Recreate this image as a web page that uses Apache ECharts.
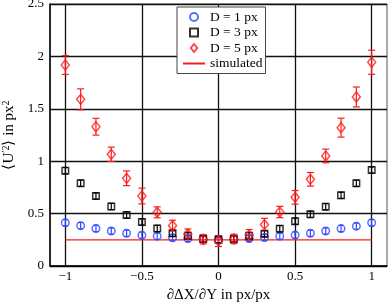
<!DOCTYPE html>
<html>
<head>
<meta charset="utf-8">
<script src="https://cdn.jsdelivr.net/npm/echarts@6/dist/echarts.min.js"></script>
<style>
  html, body { margin: 0; padding: 0; background: #fff; }
  #chart { width: 388px; height: 305px; }
</style>
</head>
<body>
<div id="chart"></div>
<script>
// slope values (x axis)
const xVals = [-1, -0.9, -0.8, -0.7, -0.6, -0.5, -0.4, -0.3, -0.2, -0.1, 0, 0.1, 0.2, 0.3, 0.4, 0.5, 0.6, 0.7, 0.8, 0.9, 1];
const xTicks = [-1, -0.5, 0, 0.5, 1];

// D = 1 px
const d1 = [0.413, 0.385, 0.358, 0.334, 0.312, 0.293, 0.285, 0.27, 0.262, 0.255, 0.25, 0.255, 0.262, 0.272, 0.285, 0.295, 0.312, 0.334, 0.357, 0.38, 0.413];
const d1Err = [0.03, 0.03, 0.03, 0.03, 0.03, 0.03, 0.03, 0.03, 0.03, 0.03, 0.03, 0.03, 0.03, 0.03, 0.03, 0.03, 0.03, 0.03, 0.03, 0.03, 0.03];
// D = 3 px
const d3 = [0.91, 0.79, 0.668, 0.568, 0.487, 0.42, 0.358, 0.312, 0.289, 0.258, 0.25, 0.258, 0.289, 0.308, 0.356, 0.428, 0.493, 0.566, 0.674, 0.789, 0.916];
const d3Err = [0.03, 0.03, 0.03, 0.03, 0.03, 0.03, 0.03, 0.03, 0.03, 0.03, 0.03, 0.03, 0.03, 0.03, 0.03, 0.03, 0.03, 0.03, 0.03, 0.03, 0.03];
// D = 5 px
const d5 = [1.918, 1.59, 1.329, 1.066, 0.837, 0.668, 0.512, 0.385, 0.305, 0.255, 0.238, 0.258, 0.296, 0.395, 0.515, 0.655, 0.827, 1.05, 1.32, 1.613, 1.944];
const d5Err = [0.09, 0.1, 0.08, 0.068, 0.07, 0.075, 0.052, 0.052, 0.048, 0.045, 0.052, 0.045, 0.052, 0.06, 0.054, 0.065, 0.065, 0.065, 0.09, 0.095, 0.115];
// simulated
const simX = [-1, 1];
const simY = [0.25, 0.25];

const FONT = 'Liberation Serif';
const BLUE = '#2f4cff';
const RED = '#ff1a1a';

const chart = echarts.init(document.getElementById('chart'), null, { renderer: 'canvas' });

function pts(ys) {
  return xVals.map((x, i) => [x, ys[i]]);
}

function errorBars(name, ys, errs, color, cap) {
  return {
    name: name,
    type: 'custom',
    silent: true,
    z: 2,
    data: xVals.map((x, i) => [x, ys[i] - errs[i], ys[i] + errs[i]]),
    encode: { x: 0, y: [1, 2] },
    renderItem: function (params, api) {
      const x = api.value(0);
      const lo = api.coord([x, api.value(1)]);
      const hi = api.coord([x, api.value(2)]);
      const style = { stroke: color, lineWidth: 1.2 };
      return {
        type: 'group',
        children: [
          { type: 'line', shape: { x1: lo[0], y1: lo[1], x2: hi[0], y2: hi[1] }, style: style },
          { type: 'line', shape: { x1: lo[0] - cap, y1: lo[1], x2: lo[0] + cap, y2: lo[1] }, style: style },
          { type: 'line', shape: { x1: hi[0] - cap, y1: hi[1], x2: hi[0] + cap, y2: hi[1] }, style: style }
        ]
      };
    }
  };
}

const option = {
  animation: false,
  backgroundColor: '#fff',
  grid: {
    left: 50,
    right: 1,
    top: 4,
    bottom: 39,
    outerBoundsMode: 'none',
    containLabel: false,
    show: true,
    borderColor: '#555',
    borderWidth: 1
  },
  legend: {
    orient: 'vertical',
    left: 177,
    top: 7,
    padding: [3, 3, 3, 5],
    itemGap: 1.5,
    itemWidth: 22,
    itemHeight: 8,
    backgroundColor: '#fff',
    borderColor: '#444',
    borderWidth: 1,
    borderRadius: 0,
    textStyle: { fontFamily: FONT, fontSize: 13.5, color: '#000', lineHeight: 14 },
    data: [
      { name: 'D = 1 px', icon: 'circle' },
      { name: 'D = 3 px', icon: 'path://M0,0L10,0L10,10L0,10Z' },
      { name: 'D = 5 px', icon: 'path://M4,0L8,5L4,10L0,5Z' },
      { name: 'simulated' }
    ]
  },
  xAxis: {
    type: 'value',
    min: -1.1,
    max: 1.1,
    name: '∂ΔX/∂Y in px/px',
    nameLocation: 'middle',
    nameGap: 14,
    nameTextStyle: { fontFamily: FONT, fontSize: 15, color: '#000' },
    axisLine: { onZero: false, lineStyle: { color: '#000', width: 1.5 } },
    axisTick: { show: false, customValues: xTicks },
    axisLabel: {
      customValues: xTicks,
      margin: 4,
      fontFamily: FONT,
      fontSize: 13,
      color: '#000',
      formatter: v => String(v).replace('-', '\u2212')
    },
    splitLine: { show: true, lineStyle: { color: '#111', width: 1.3 } }
  },
  yAxis: {
    type: 'value',
    min: 0,
    max: 2.5,
    interval: 0.5,
    name: '⟨U{s|′2}⟩ in px{s|2}',
    nameLocation: 'middle',
    nameGap: 28,
    nameTextStyle: {
      fontFamily: FONT,
      fontSize: 15,
      color: '#000',
      rich: {
        s: { fontFamily: FONT, fontSize: 10, color: '#000', verticalAlign: 'top' }
      }
    },
    axisLine: { show: true, onZero: false, lineStyle: { color: '#000', width: 1.5 } },
    axisTick: { show: false },
    axisLabel: { margin: 6, fontFamily: FONT, fontSize: 13, color: '#000' },
    splitLine: { show: true, lineStyle: { color: '#111', width: 1.3 } }
  },
  series: [
    {
      name: 'simulated',
      type: 'line',
      data: simX.map((x, i) => [x, simY[i]]),
      symbol: 'none',
      z: 1,
      lineStyle: { color: RED, width: 1.2 },
      itemStyle: { color: 'transparent' }
    },
    errorBars('err1', d1, d1Err, BLUE, 2.5),
    errorBars('err3', d3, d3Err, '#000', 2.5),
    errorBars('err5', d5, d5Err, RED, 3.5),
    {
      name: 'D = 1 px',
      type: 'scatter',
      data: pts(d1),
      symbol: 'circle',
      symbolSize: 7.5,
      z: 3,
      itemStyle: { color: 'transparent', borderColor: BLUE, borderWidth: 1.5 }
    },
    {
      name: 'D = 3 px',
      type: 'scatter',
      data: pts(d3),
      symbol: 'rect',
      symbolSize: 6.5,
      z: 3,
      itemStyle: { color: 'transparent', borderColor: '#000', borderWidth: 1.5 }
    },
    {
      name: 'D = 5 px',
      type: 'scatter',
      data: pts(d5),
      symbol: 'diamond',
      symbolSize: [8, 10],
      z: 3,
      itemStyle: { color: 'transparent', borderColor: RED, borderWidth: 1.5 }
    }
  ]
};

chart.setOption(option);
</script>
</body>
</html>
